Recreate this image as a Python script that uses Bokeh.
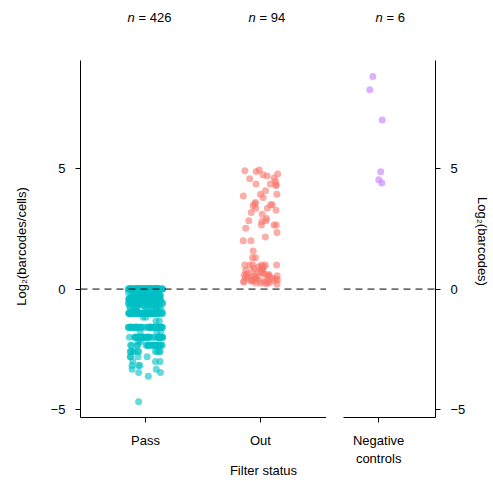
import numpy as np
from bokeh.plotting import figure
from bokeh.models import ColumnDataSource, Span, Label, FixedTicker, Range1d
from bokeh.transform import jitter
from bokeh.layouts import row, column
from bokeh.embed import file_html
from bokeh.resources import INLINE

# ---------------- data ----------------
categories = ["Pass", "Out", "Negative\ncontrols"]
category_x = [1, 2, 3]

# Pass: log2(barcodes/cells) values and how many cells sit at each value
pass_values = [0.0, -0.152, -0.263, -0.322, -0.415, -0.485, -0.585, -0.678, -0.737, -0.848,
               -1.0, -1.17, -1.32, -1.585, -1.737, -2.0, -2.17, -2.322, -2.585, -2.807,
               -3.0, -3.17, -3.32, -3.46, -3.61, -4.67]
pass_counts = [90, 8, 20, 12, 30, 10, 30, 8, 10, 4,
               66, 2, 2, 43, 3, 38, 2, 22, 10, 4,
               3, 3, 2, 2, 1, 1]

out_values = [4.87, 4.77, 4.74, 4.90, 4.93, 4.68, 4.60, 4.57, 4.46, 4.35,
              4.29, 4.32, 4.35, 4.07, 3.93, 3.86, 3.79, 3.93, 3.59, 3.49,
              3.54, 3.49, 3.45, 3.35, 3.35, 3.27, 3.17, 3.10, 2.92, 2.83,
              2.80, 2.83, 2.65, 2.66, 2.65, 2.52, 2.34, 2.16, 2.00, 2.00,
              1.58, 1.30, 1.30,
              1.0, 1.0, 1.0, 1.0, 1.0, 1.0, 0.93, 0.93, 0.93, 0.85,
              0.85, 0.82, 0.80, 0.78, 0.74, 0.70, 0.68, 0.66, 0.64, 0.62,
              0.60, 0.58, 0.58, 0.56, 0.55, 0.54, 0.52, 0.50, 0.50, 0.48,
              0.46, 0.45, 0.44, 0.42, 0.42, 0.40, 0.38, 0.37, 0.36, 0.35,
              0.34, 0.33, 0.32, 0.30, 0.29, 0.28, 0.26, 0.25, 0.24, 0.22,
              0.20]

negative_values = [8.81, 8.26, 7.01, 4.86, 4.53, 4.39]

y_ticks = [-5, 0, 5]
colors = ["#00BFC4", "#F8766D", "#C77CFF"]
left_title = "Log\u2082(barcodes/cells)"
right_title = "Log\u2082(barcodes)"
x_title = "Filter status"

FONT = "Liberation Sans"
FS = "13px"

pass_y = np.repeat(pass_values, pass_counts)
pass_src = ColumnDataSource(dict(x=[category_x[0]] * len(pass_y), y=pass_y))
out_src = ColumnDataSource(dict(x=[category_x[1]] * len(out_values), y=out_values))
neg_src = ColumnDataSource(dict(x=[category_x[2]] * len(negative_values), y=negative_values))

W, H = 493, 481
TOP_H = 40           # strip holding the n = ... labels
LEFT_W = 40          # strip holding the left axis title
RIGHT_W = 25         # strip holding the right axis title
BOT_H = 19           # strip under the left panel holding the x title
PH = H - TOP_H
FRAME_TOP, FRAME_BOTTOM = 60, 417     # page rows of the plot frames
P1_LEFT, P1_RIGHT = 80, 326           # page columns of the left frame
Y0, Y1 = -5.32, 9.47


def strip(width, height, xr, yr):
    # helper figure for free text; ranges are given in page pixels of its frame
    s = figure(width=width, height=height, x_range=Range1d(*xr), y_range=Range1d(*yr),
               output_backend="svg", toolbar_location=None,
               x_axis_type=None, y_axis_type=None,
               min_border=0, min_border_left=0, min_border_right=0,
               min_border_top=0, min_border_bottom=0)
    s.outline_line_color = None
    s.xgrid.visible = False
    s.ygrid.visible = False
    s.background_fill_color = "white"
    s.border_fill_color = "white"
    return s


def put(s, x, y, text, align="center", angle=0.0, style="normal"):
    s.add_layout(Label(x=x, y=y, text=text, text_font=FONT, text_font_size=FS,
                       text_font_style=style, text_baseline="middle", text_align=align,
                       angle=angle, text_color="black"))


def style_axis(ax):
    ax.axis_line_color = "black"
    ax.axis_line_width = 1
    ax.major_tick_line_color = "black"
    ax.major_tick_out = 5
    ax.major_tick_in = 0
    ax.minor_tick_line_color = None
    ax.major_label_text_font = FONT
    ax.major_label_text_font_size = FS
    ax.major_label_text_color = "black"
    ax.major_label_standoff = 10


def base_fig(width, height, xr, left, right, bottom, yloc):
    p = figure(width=width, height=height, x_range=Range1d(*xr), y_range=Range1d(Y0, Y1),
               output_backend="svg", toolbar_location=None, y_axis_location=yloc,
               min_border_left=left, min_border_right=right,
               min_border_top=FRAME_TOP - TOP_H, min_border_bottom=bottom)
    p.xgrid.visible = False
    p.ygrid.visible = False
    p.outline_line_color = None
    p.background_fill_color = "white"
    p.border_fill_color = "white"
    for ax in p.xaxis + p.yaxis:
        style_axis(ax)
    p.yaxis.ticker = FixedTicker(ticks=y_ticks)
    p.add_layout(Span(location=0, dimension="width", line_color="black",
                      line_dash="7 5", line_width=1))
    return p


# ---------------- left panel ----------------
P1W = P1_RIGHT - LEFT_W
p1 = base_fig(P1W, PH - BOT_H, (0.435, 2.574), P1_LEFT - LEFT_W, 0,
              (H - FRAME_BOTTOM) - BOT_H, "left")
p1.xaxis.ticker = FixedTicker(ticks=category_x[:2])
p1.xaxis.major_label_overrides = {category_x[0]: categories[0], category_x[1]: categories[1]}
p1.scatter(jitter("x", width=0.3, distribution="uniform"), "y", source=pass_src,
           size=7, fill_color=colors[0], fill_alpha=0.6, line_color=None)
p1.scatter(jitter("x", width=0.3, distribution="uniform"), "y", source=out_src,
           size=7, fill_color=colors[1], fill_alpha=0.6, line_color=None)

# ---------------- right panel ----------------
p2 = base_fig(W - P1_RIGHT - RIGHT_W, PH, (2.691, 3.5), 17, 57 - RIGHT_W,
              H - FRAME_BOTTOM, "right")
p2.xaxis.ticker = FixedTicker(ticks=[category_x[2]])
p2.xaxis.major_label_overrides = {category_x[2]: categories[2]}
p2.scatter(jitter("x", width=0.2, distribution="uniform"), "y", source=neg_src,
           size=7, fill_color=colors[2], fill_alpha=0.6, line_color=None)

# ---------------- text strips ----------------
top = strip(W, TOP_H, (0, W), (TOP_H, 0))


def n_label(x_left, n):
    put(top, x_left, 17, "n", align="left", style="italic")
    put(top, x_left + 11, 17, "= %d" % n, align="left")


n_label(127, len(pass_y))
n_label(248, len(out_values))
n_label(375, len(negative_values))

# side strips share the frame rows of the panels (row layouts align frames)
left = strip(LEFT_W, PH, (0, LEFT_W), (FRAME_BOTTOM, FRAME_TOP))
put(left, 21, 246, left_title, angle=np.pi / 2)

right = strip(RIGHT_W, PH, (W - RIGHT_W, W), (FRAME_BOTTOM, FRAME_TOP))
put(right, 482, 241, right_title, angle=-np.pi / 2)

# bottom strip shares the frame columns of the left panel
bottom = strip(P1W, BOT_H, (P1_LEFT, P1_RIGHT), (H, H - BOT_H))
put(bottom, 263, 470, x_title)

layout = column(top, row(left, column(p1, bottom), p2, right))
open("out.html", "w").write(file_html(layout, INLINE))
